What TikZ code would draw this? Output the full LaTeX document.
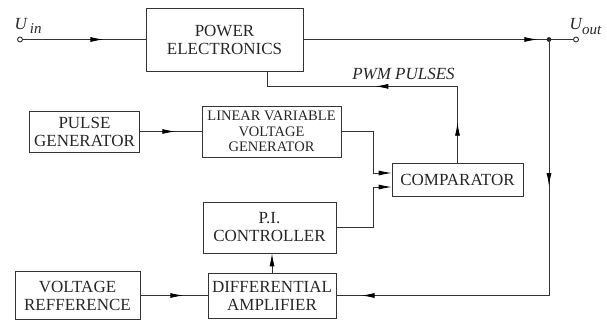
\documentclass[tikz,border=0pt]{standalone}
\usepackage{fontspec}
\setmainfont{Liberation Serif}
\usetikzlibrary{positioning,arrows.meta,decorations.markings}

\tikzset{
  block/.style={draw=black!80,line width=0.7pt,align=center,inner sep=0pt,
    text=black!85,font=\fontsize{17}{18}\selectfont},
  tipat/.style={postaction={decorate,decoration={markings,
    mark=at position #1 with {\arrow{Latex[length=13pt,width=5pt,color=black]}}}}},
  endtip/.style={-{Latex[length=13pt,width=5pt,color=black]}},
  terminal/.style={circle,draw,fill=white,line width=0.9pt,inner sep=0pt,minimum size=5pt},
}

\begin{document}
\begin{tikzpicture}[x=1pt,y=-1pt,line width=0.8pt,draw=black!80]
 \useasboundingbox (0,0) rectangle (607,321);

 % blocks
 \node[block,minimum width=157pt,minimum height=63pt] (pe) at (224.5,39.5) {POWER\\ELECTRONICS};
 \node[block,minimum width=110pt,minimum height=41pt] (pg) at (84.5,131.5) {PULSE\\GENERATOR};
 \node[block,minimum width=139pt,minimum height=51pt,font=\fontsize{14.5}{15.5}\selectfont] (lvvg) at (271.5,131.5) {LINEAR VARIABLE\\VOLTAGE\\GENERATOR};
 \node[block,minimum width=131pt,minimum height=33pt] (comp) at (457.5,179.5) {COMPARATOR};
 \node[block,minimum width=133pt,minimum height=51pt] (pi) at (269.5,227.5) {P.I.\\CONTROLLER};
 \node[block,minimum width=128pt,minimum height=45pt] (da) at (272,295.5) {DIFFERENTIAL\\AMPLIFIER};
 \node[block,minimum width=125pt,minimum height=48pt] (vr) at (77.5,295.5) {VOLTAGE\\REFFERENCE};

 % terminals
 \node[terminal] (uin) at (20,39.5) {};
 \node[terminal] (uout) at (576,39.5) {};
 \coordinate (jn) at (549,39.5);
 \node[anchor=base west,text=black!85,font=\fontsize{17}{18}\itshape] (uinlbl) at (11,30) {U\,\raisebox{-4pt}{\fontsize{15}{15}\selectfont in}};
 \node[anchor=base west,text=black!85,font=\fontsize{17}{18}\itshape] (uoutlbl) at (566,30) {U\raisebox{-5pt}{\fontsize{15}{15}\selectfont out}};
 \node[text=black!85,font=\fontsize{17}{18}\itshape] (pwmlbl) at (403.5,74.5) {PWM PULSES};

 % main path
 \draw[tipat=80.5pt] (uin) -- (pe.west);
 \draw[tipat=234pt] (pe.east) -- (jn);
 \draw (jn) -- (uout);
 \fill[black!85] (jn) circle (2.4pt);

 % pulses back to the power stage
 \draw[tipat=40pt,tipat=158.5pt] (comp.north) |- ([xshift=42.5pt,yshift=-15pt]pe.south) -- ([xshift=42.5pt]pe.south);

 % output feedback
 \draw[tipat=146.5pt,tipat=443.5pt] (jn) |- (da.east);

 % control chain
 \draw[tipat=35.5pt] (pg.east) -- (lvvg.west);
 \draw[endtip] (lvvg.east) -| ([xshift=-18pt,yshift=6.5pt]comp.west) -- ([yshift=6.5pt]comp.west);
 \draw[endtip] (pi.east) -| ([xshift=-18pt,yshift=-7.5pt]comp.west) -- ([yshift=-7.5pt]comp.west);
 \draw[endtip] (da.north) -- (da.north |- pi.south);
 \draw[tipat=43pt] (vr.east) -- (da.west);
\end{tikzpicture}
\end{document}
